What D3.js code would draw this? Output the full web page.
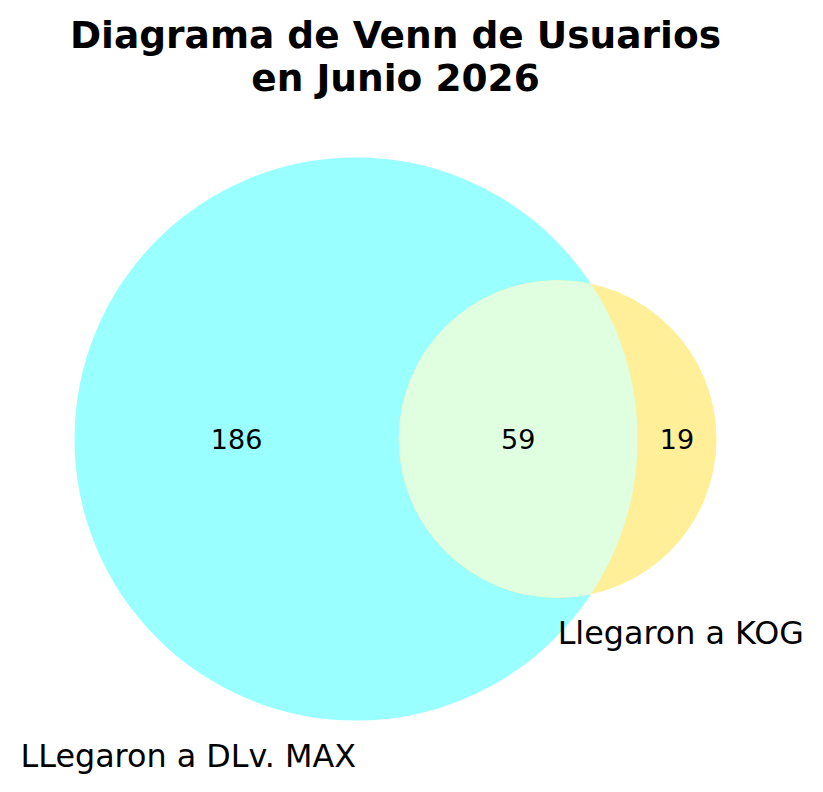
<!DOCTYPE html>
<html>
<head>
    <meta charset="utf-8">
    <script src="https://cdn.jsdelivr.net/npm/d3@7"></script>
    <style>
        body { margin: 0; background: #ffffff; }
    </style>
</head>

<body>
<div id="chart"></div>

<script>

    // region counts: only A, only B, both
    var setNames = ["LLegaron a DLv. MAX", "Llegaron a KOG"];
    var regionIds = ["10", "01", "11"];
    var regionValues = [186, 19, 59];
    var setColors = ['#99FFFF', '#FFEF99'];
    var overlapColor = '#E0FFE0';
    var titleLines = ["Diagrama de Venn de Usuarios", "en Junio 2026"];

    var width = 823;
    var height = 792;

    var sizeA = regionValues[0] + regionValues[2];
    var sizeB = regionValues[1] + regionValues[2];
    var sizeAB = regionValues[2];

    // circle areas proportional to set size
    var rA = Math.sqrt(sizeA / Math.PI);
    var rB = Math.sqrt(sizeB / Math.PI);

    function lensArea(d, r1, r2) {
        if (d >= r1 + r2) return 0;
        if (d <= Math.abs(r1 - r2)) return Math.PI * Math.min(r1, r2) * Math.min(r1, r2);
        var a1 = Math.acos((d * d + r1 * r1 - r2 * r2) / (2 * d * r1));
        var a2 = Math.acos((d * d + r2 * r2 - r1 * r1) / (2 * d * r2));
        var k = Math.sqrt((-d + r1 + r2) * (d + r1 - r2) * (d - r1 + r2) * (d + r1 + r2));
        return r1 * r1 * a1 + r2 * r2 * a2 - 0.5 * k;
    }

    // find the centre distance that gives the overlap area (bisection)
    var lo = Math.abs(rA - rB), hi = rA + rB;
    for (var i = 0; i < 100; i++) {
        var mid = (lo + hi) / 2;
        if (lensArea(mid, rA, rB) > sizeAB) lo = mid; else hi = mid;
    }
    var dist = (lo + hi) / 2;

    var x = d3.scaleLinear()
        .domain([-rA, dist + rB])
        .range([74.5, 716.5]);
    var ppu = x(1) - x(0);
    var cy = 439;
    var r = function(v) { return v * ppu; };

    var circles = [
        { cx: x(0), r: r(rA) },
        { cx: x(dist), r: r(rB) }
    ];

    var svg = d3.select('#chart').append('svg')
        .attr('width', width)
        .attr('height', height)
        .style('font-family', '"DejaVu Sans", sans-serif');

    svg.append('rect')
        .attr('width', width)
        .attr('height', height)
        .attr('fill', '#ffffff');

    svg.append('defs').append('clipPath')
        .attr('id', 'clipA')
        .append('circle')
        .attr('cx', circles[0].cx)
        .attr('cy', cy)
        .attr('r', circles[0].r);

    svg.selectAll('circle.set')
        .data(circles)
        .enter()
        .append('circle')
        .attr('class', 'set')
        .attr('cx', function(d) { return d.cx; })
        .attr('cy', cy)
        .attr('r', function(d) { return d.r; })
        .attr('fill', function(d, i) { return setColors[i]; });

    // overlap region
    svg.append('circle')
        .attr('cx', circles[1].cx)
        .attr('cy', cy)
        .attr('r', circles[1].r)
        .attr('clip-path', 'url(#clipA)')
        .attr('fill', overlapColor);

    // region label positions (midpoints between circle edges)
    var leftA = circles[0].cx - circles[0].r, rightA = circles[0].cx + circles[0].r;
    var leftB = circles[1].cx - circles[1].r, rightB = circles[1].cx + circles[1].r;
    var labelX = {
        "10": (leftA + leftB) / 2,
        "01": (rightA + rightB) / 2,
        "11": (leftB + rightA) / 2
    };

    svg.selectAll('text.region')
        .data(regionIds)
        .enter()
        .append('text')
        .attr('class', 'region')
        .attr('x', function(d) { return labelX[d]; })
        .attr('y', cy)
        .attr('dy', '0.36em')
        .attr('text-anchor', 'middle')
        .attr('font-size', 27)
        .attr('fill', '#000')
        .text(function(d, i) { return regionValues[i]; });

    // set labels below each circle
    svg.selectAll('text.setlabel')
        .data(circles)
        .enter()
        .append('text')
        .attr('class', 'setlabel')
        .attr('x', function(d) { return d.cx; })
        .attr('y', function(d) { return cy + d.r + 46; })
        .attr('text-anchor', function(d, i) { return i === 0 ? 'end' : 'start'; })
        .attr('font-size', 31.8)
        .attr('fill', '#000')
        .text(function(d, i) { return setNames[i]; });

    var title = svg.append('text')
        .attr('x', (leftA + rightB) / 2)
        .attr('y', 47.7)
        .attr('text-anchor', 'middle')
        .attr('font-size', 37.5)
        .attr('font-weight', 'bold')
        .attr('fill', '#000');

    title.selectAll('tspan')
        .data(titleLines)
        .enter()
        .append('tspan')
        .attr('x', (leftA + rightB) / 2)
        .attr('dy', function(d, i) { return i === 0 ? 0 : '1.16em'; })
        .text(function(d) { return d; });

</script>
</body>
</html>
